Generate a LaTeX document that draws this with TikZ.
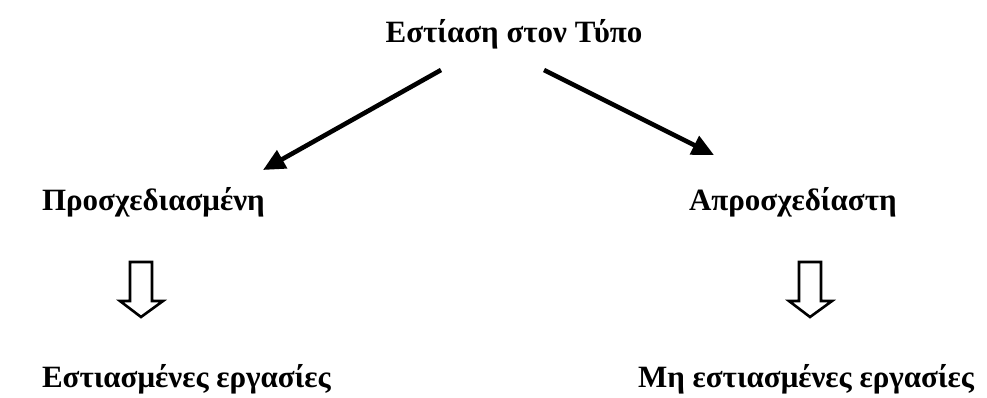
\documentclass[tikz,border=0pt]{standalone}
\usepackage{fontspec}
\setmainfont{Liberation Serif}
\usetikzlibrary{arrows.meta}
\tikzset{
  lbl/.style={font=\fontsize{31}{36}\selectfont\bfseries, inner sep=0pt, outer sep=0pt},
  thickarrow/.style={line width=4.6pt, -{Triangle[length=22pt,width=20pt]}},
  hollow/.style={line width=2.6pt, fill=white, line join=miter},
}
\begin{document}
\begin{tikzpicture}[x=1pt,y=-1pt]
\useasboundingbox (0,0) rectangle (987,397);
\node[lbl, anchor=base] (title) at (514,42) {Εστίαση στον Τύπο};
\node[lbl, anchor=base west] (plan) at (42,210) {Προσχεδιασμένη};
\node[lbl, anchor=base west] (unplan) at (689,210) {Απροσχεδίαστη};
\node[lbl, anchor=base west] (foc) at (42,387) {Εστιασμένες εργασίες};
\node[lbl, anchor=base west] (unfoc) at (638,387) {Μη εστιασμένες εργασίες};
\coordinate (s1) at (441,70);
\coordinate (t1) at (263,170);
\coordinate (s2) at (544,70);
\coordinate (t2) at (714,155);
\draw[thickarrow] (s1) -- (t1);
\draw[thickarrow] (s2) -- (t2);
\draw[hollow] (130,262) -- (152,262) -- (152,301) -- (163,301) -- (141,317) -- (120,301) -- (130,301) -- cycle;
\draw[hollow] (799,262) -- (821,262) -- (821,301) -- (832,301) -- (810,317) -- (789,301) -- (799,301) -- cycle;
\end{tikzpicture}
\end{document}
